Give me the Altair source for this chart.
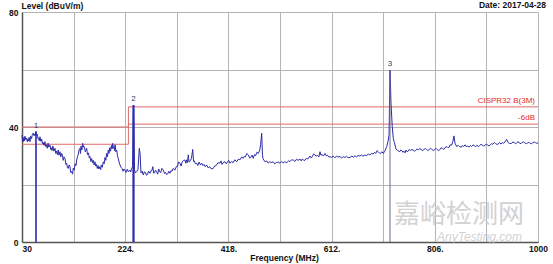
import altair as alt
import pandas as pd

# ---- spectrum trace, [MHz, dBuV/m] pairs, in segments ----
trace_30_240 = [
    [30, 37.2], [31, 35.0], [32.4, 34.9], [33.5, 36.4], [34.5, 35.2], [35.5, 36.8], [37, 35.6],
    [38.8, 36.2], [40, 34.8], [41, 35.8], [42, 35.2], [43.5, 36.4], [45, 34.9], [46.5, 36.8],
    [48, 36.0], [49.5, 37.4], [51.2, 37.9], [52.5, 37.0], [54, 37.6], [55, 36.9], [56.3, 38.4],
    [57.5, 37.2], [59, 37.4], [60, 36.0], [61, 36.2], [62.5, 35.2], [63.8, 36.6], [65.5, 35.0],
    [67, 35.8], [68.5, 34.2], [70, 34.6], [71.5, 33.6], [73.2, 34.9], [74.5, 33.2], [76, 33.8],
    [77.5, 32.6], [79, 34.4], [80.5, 33.0], [82.6, 33.7], [84, 32.2], [85, 32.8], [86.5, 31.8],
    [88, 33.4], [90, 31.6], [92, 32.6], [93.5, 30.8], [95, 31.6], [96.5, 30.4], [98, 32.0],
    [99.5, 30.2], [101.4, 31.4], [103, 29.6], [104.5, 30.8], [106, 30.2], [107.5, 28.4],
    [109, 29.6], [110.8, 29.1], [112.5, 27.0], [114, 27.4], [115.5, 25.8], [117, 25.6],
    [118.5, 26.8], [120, 26.4], [121.5, 24.2], [123.4, 24.5], [125, 23.6], [126.4, 25.7],
    [128, 25.0], [130, 27.2], [131.5, 26.6], [132.8, 28.5], [134.5, 29.8], [136, 30.6],
    [137.5, 32.2], [139, 32.6], [140, 30.8], [141, 33.4], [142.5, 32.0], [144.1, 34.3],
    [145.5, 33.0], [147, 33.2], [149, 31.4], [151.6, 32.6], [153, 30.4], [155, 31.0],
    [156.5, 29.2], [157.8, 29.7], [159.5, 28.0], [161, 29.0], [162.5, 27.6], [164, 28.4],
    [165.5, 26.8], [167.2, 27.9], [168.5, 26.4], [170, 27.0], [171.5, 25.6], [173, 26.6],
    [174.5, 25.4], [176.6, 26.2], [178, 25.2], [179, 26.8], [181, 26.0], [182.8, 27.9],
    [184.5, 27.2], [186, 29.4], [187.5, 28.4], [189, 30.8], [190.5, 29.6], [192.2, 32.0],
    [193.5, 30.8], [195, 32.8], [196.5, 31.6], [198, 33.6], [199.3, 32.4], [200.5, 34.3],
    [201.5, 32.6], [203, 33.2], [204, 31.8], [205, 33.8], [206.5, 31.4], [208, 32.0],
    [209.5, 30.0], [211, 29.0], [212.5, 27.8], [214.2, 26.8], [216, 26.0], [218, 25.6],
    [220, 24.6], [221.5, 25.4], [223.6, 25.0], [225.5, 24.2], [228, 25.3], [230, 24.4],
    [233, 25.0], [234.5, 24.4], [236, 25.6], [238, 26.2], [239.6, 47.6],
]
trace_240_490 = [
    [241.5, 25.2], [243, 24.0], [245.6, 24.5], [248, 25.2], [250.5, 32.6], [252, 30.8],
    [253.7, 24.0], [256, 24.6], [258, 23.3], [260, 24.4], [262, 24.2], [264, 23.2], [266, 23.6],
    [268, 24.6], [270.6, 23.9], [272.5, 24.8], [274, 24.8], [276, 26.2], [277.5, 24.0],
    [279, 24.0], [281, 25.0], [283, 24.5], [285, 23.6], [287, 25.4], [289, 24.4], [291, 24.2],
    [293, 25.6], [295.6, 25.0], [298, 23.8], [300, 24.2], [302, 23.4], [304, 23.8], [306, 24.6],
    [308, 23.9], [310, 24.8], [312, 24.6], [314, 25.6], [317.6, 25.0], [320, 26.2], [322, 26.2],
    [324.5, 27.8], [327, 27.4], [329, 26.4], [331, 27.8], [333.5, 28.4], [336.4, 28.5],
    [338, 27.4], [339.5, 28.6], [341, 27.6], [342.6, 30.3], [344, 27.8], [346, 28.2],
    [348.5, 29.0], [350.9, 32.2], [352.5, 28.0], [354, 28.2], [356, 27.2], [358.4, 27.4],
    [360.5, 26.6], [363, 27.8], [365.5, 26.8], [367.8, 27.4], [370, 26.6], [372, 27.0],
    [374.5, 26.2], [377, 26.8], [380, 25.8], [383, 26.2], [386, 25.4], [389.6, 25.6],
    [392, 26.4], [395, 26.6], [398.5, 27.6], [402, 27.4], [404, 28.2], [406, 27.0], [409, 27.8],
    [411.6, 27.9], [414, 27.2], [416, 27.8], [418.5, 28.4], [421, 27.4], [424, 28.0],
    [427, 27.6], [430, 28.6], [433.6, 27.9], [436.5, 28.8], [440, 28.6], [443, 29.6],
    [446, 29.1], [448, 29.8], [450, 29.6], [452.5, 30.8], [455.4, 30.3], [458, 29.2],
    [460, 29.4], [462.5, 30.2], [464.8, 29.1], [467, 30.4], [469, 30.0], [471.5, 31.2],
    [474.2, 30.8], [477, 32.0], [478.5, 33.8], [480.6, 37.8], [482, 30.5], [483, 29.0],
    [486.8, 27.9],
]
trace_490_720 = [
    [490, 28.2], [493, 27.4], [496, 28.0], [498, 27.6], [502, 27.9], [505, 27.2], [508, 27.6],
    [512, 27.8], [515, 27.4], [518, 28.0], [521, 27.5], [524, 27.9], [527.6, 27.6], [531, 28.2],
    [534, 28.0], [537, 28.6], [540, 28.5], [543, 28.0], [546, 28.8], [549, 28.4], [552.6, 28.8],
    [555, 28.2], [557, 28.9], [560, 28.3], [562, 28.5], [565, 29.2], [567, 28.8], [571.4, 29.9],
    [574, 29.2], [576, 29.8], [578, 30.6], [580.8, 30.3], [583, 29.8], [585, 30.2], [588, 29.6],
    [590.2, 31.4], [592, 30.2], [594, 30.4], [597, 30.0], [599.6, 30.8], [602, 30.0],
    [604, 30.2], [607, 29.5], [609, 29.7], [612, 29.4], [615, 29.9], [618, 29.3], [621, 29.8],
    [624, 29.6], [627.8, 29.7], [631, 29.2], [634, 29.7], [637, 29.4], [640, 29.8], [643, 29.3],
    [646.6, 29.4], [650, 29.9], [653, 29.5], [656, 30.0], [659, 29.6], [662, 30.1],
    [665.4, 29.9], [668, 30.3], [671, 29.8], [674, 30.2], [678, 30.1], [681, 30.6], [684, 30.3],
    [687, 30.8], [690, 30.6], [693, 31.2], [695, 30.8], [697.5, 31.8], [699.8, 31.4],
    [702, 30.9], [704, 30.8], [706.5, 31.4], [709, 30.8], [712, 31.6], [715.6, 33.2],
    [718, 35.0], [720, 37.2], [721.8, 59.8],
]
trace_720_1000 = [
    [723.7, 48.2], [726, 40.1], [728, 36.0], [730, 34.6], [733, 32.4], [736, 31.8], [740, 31.4],
    [742, 32.0], [744, 31.8], [746, 31.2], [748, 31.6], [750, 31.0], [752, 32.0], [754, 31.4],
    [756, 31.6], [758, 32.2], [760, 31.8], [763, 32.2], [765, 32.0], [768, 31.6], [770, 31.8],
    [773, 32.4], [775, 32.0], [778, 32.5], [780, 32.2], [783, 31.8], [785, 32.0], [788, 32.6],
    [790, 32.2], [793, 31.8], [795, 32.1], [798, 32.6], [800, 32.3], [803, 31.8], [805, 32.0],
    [808, 32.6], [810, 32.2], [813, 31.8], [815, 32.0], [818, 32.8], [820, 32.6], [823, 32.2],
    [825, 32.8], [829, 33.2], [831, 32.8], [833, 33.0], [835, 33.8], [837.8, 33.7], [840, 35.0],
    [842, 36.9], [844, 34.4], [847, 33.2], [850, 33.6], [852, 33.2], [856, 33.0], [858, 33.6],
    [860, 33.2], [863, 33.8], [865, 33.2], [868, 33.4], [870, 33.0], [873, 33.6], [875, 33.2],
    [878, 33.8], [880, 33.5], [883, 33.2], [885, 33.6], [888, 33.2], [890, 33.5], [893, 34.0],
    [895, 33.7], [898, 33.4], [900, 33.6], [903, 34.1], [905, 33.7], [908, 33.4], [910, 33.8],
    [913, 34.2], [915, 34.0], [918, 34.6], [920, 34.3], [923, 33.9], [925, 34.1], [928, 34.6],
    [930, 34.1], [933, 34.5], [935, 34.4], [938, 34.8], [941, 35.7], [944, 34.6], [947, 34.2],
    [950, 34.3], [953, 34.8], [955, 34.6], [958, 34.2], [960, 34.5], [963, 34.9], [965, 34.4],
    [968, 34.2], [970, 34.6], [973, 34.8], [975, 34.5], [978, 34.2], [980, 34.4], [983, 34.7],
    [985, 34.3], [988, 34.2], [990, 34.5], [993, 34.8], [995, 34.6], [998, 34.3], [1000, 34.5],
]

# ---- limit lines ----
limit_freq = [30, 230, 230, 1000]
cispr_level = [40, 40, 47, 47]
margin_level = [34, 34, 41, 41]
limit_names = ["CISPR32 B(3M)", "-6dB"]

# ---- markers ----
marker_id = ["1", "2", "3"]
marker_freq = [56.3, 239.6, 721.8]
marker_level = [38.4, 47.6, 59.8]
marker_color = ["#2b2bb0", "#2b2bb0", "#6a6a90"]
marker_width = [1.6, 2.2, 1.0]

x_ticks = [30, 127, 224, 321, 418, 515, 612, 709, 806, 903, 1000]
y_ticks = [0, 10, 20, 30, 40, 50, 60, 70, 80]

FONT = "Liberation Sans"

pairs = trace_30_240 + trace_240_490 + trace_490_720 + trace_720_1000
trace = pd.DataFrame(pairs, columns=["f", "v"])
trace["o"] = range(len(trace))
limits = pd.DataFrame({
    "f": limit_freq * 2,
    "v": cispr_level + margin_level,
    "s": [limit_names[0]] * 4 + [limit_names[1]] * 4,
    "o": list(range(8)),
})
limit_lbl = pd.DataFrame({"f": [1000, 1000], "v": [cispr_level[-1], margin_level[-1]], "t": limit_names})
markers = pd.DataFrame({"id": marker_id, "f": marker_freq, "v": marker_level,
                        "c": marker_color, "w": marker_width})

xs = alt.Scale(domain=[30, 1000], nice=False, zero=False)
ys = alt.Scale(domain=[0, 80], nice=False)

x_axis = alt.Axis(
    values=x_ticks, grid=True, ticks=False, labelPadding=2,
    labelExpr="(datum.value - 30) % 194 == 0 ? (datum.value == 30 || datum.value == 1000 ? datum.value : datum.value + '.') : ''",
    labelAlign={"condition": {"test": "datum.value == 30", "value": "left"}, "value": "center"},
    title="Frequency (MHz)", titleX=262, titleY=18, titleAlign="center", titleBaseline="alphabetic",
)
y_axis = alt.Axis(
    values=y_ticks, grid=True, ticks=False, labelPadding=4,
    labelExpr="datum.value % 40 == 0 ? datum.value : ''",
    title="Level (dBuV/m)", titleAngle=0, titleX=-1, titleY=-4, titleAlign="left",
    titleBaseline="alphabetic",
)

lim = alt.Chart(limits).mark_line(color="#e06868", strokeWidth=1).encode(
    x=alt.X("f:Q", scale=xs, axis=x_axis), y=alt.Y("v:Q", scale=ys, axis=y_axis),
    detail="s:N", order="o:Q")

line = alt.Chart(trace).mark_line(color="#2b2ba8", strokeWidth=1).encode(
    x=alt.X("f:Q", scale=xs), y=alt.Y("v:Q", scale=ys), order="o:Q")

rules = alt.Chart(markers).mark_rule().encode(
    x=alt.X("f:Q", scale=xs), y=alt.Y("v:Q", scale=ys), y2=alt.value(230),
    color=alt.Color("c:N", scale=None), strokeWidth=alt.StrokeWidth("w:Q", scale=None))

mlabels = alt.Chart(markers).mark_text(font=FONT, fontSize=8, dy=-6, color="#333366").encode(
    x=alt.X("f:Q", scale=xs), y=alt.Y("v:Q", scale=ys), text="id:N")

llabels = alt.Chart(limit_lbl).mark_text(
    font=FONT, fontSize=8, align="right", dx=-3, dy=-6, color="#e02828").encode(
    x=alt.X("f:Q", scale=xs), y=alt.Y("v:Q", scale=ys), text="t:N")

date = alt.Chart(pd.DataFrame({"t": ["Date: 2017-04-28"]})).mark_text(
    font=FONT, fontSize=8.5, fontWeight="bold", align="right", baseline="alphabetic",
    color="#111").encode(x=alt.value(524), y=alt.value(-4), text="t:N")

wm = alt.Chart(pd.DataFrame({"t": ["嘉峪检测网"]})).mark_text(
    font="Noto Sans CJK SC", fontSize=26, align="right", baseline="alphabetic",
    color="#c8c8c8", opacity=0.8).encode(x=alt.value(502), y=alt.value(211), text="t:N")
wm2 = alt.Chart(pd.DataFrame({"t": ["AnyTesting.com"]})).mark_text(
    font=FONT, fontSize=12, fontStyle="italic", align="right", baseline="alphabetic",
    color="#c8c8c8", opacity=0.8).encode(x=alt.value(500), y=alt.value(229), text="t:N")

chart = alt.layer(lim, line, rules, mlabels, llabels, date, wm, wm2).properties(
    width=516, height=230, autosize="none",
    padding={"left": 22, "top": 12, "right": 15, "bottom": 22},
    background="white",
).configure_view(stroke=None).configure_axis(
    labelFont=FONT, labelFontSize=8.5, labelFontWeight="bold", labelColor="#111",
    titleFont=FONT, titleFontSize=8.5, titleFontWeight="bold", titleColor="#111",
    gridColor="#b4b4b4", gridWidth=1, domainColor="#555", domainWidth=1.5,
)

chart.save("out.html", embed_options={"renderer": "svg", "actions": False})
